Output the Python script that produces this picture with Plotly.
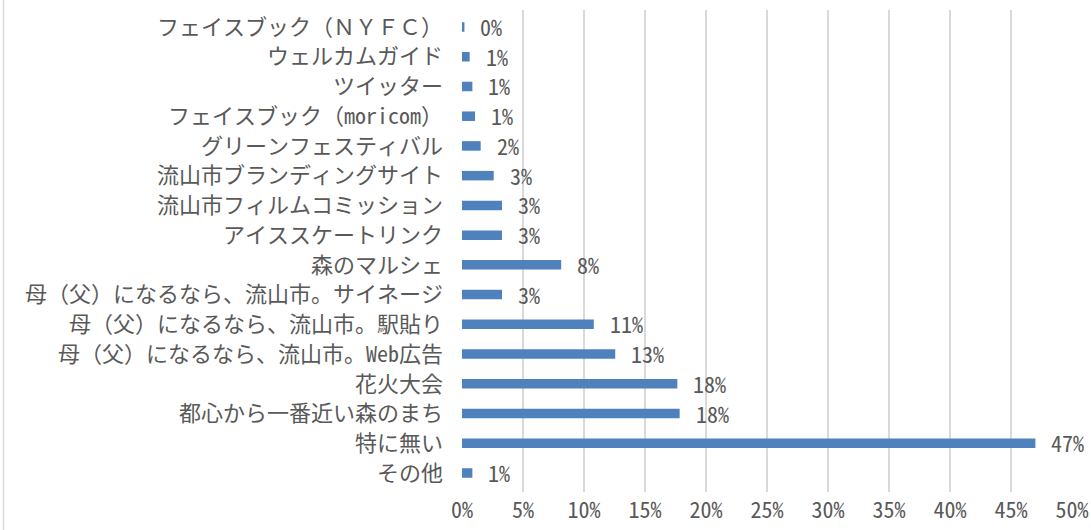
import plotly.graph_objects as go

categories = [
    "フェイスブック（ＮＹＦＣ）",
    "ウェルカムガイド",
    "ツイッター",
    "フェイスブック（moricom）",
    "グリーンフェスティバル",
    "流山市ブランディングサイト",
    "流山市フィルムコミッション",
    "アイススケートリンク",
    "森のマルシェ",
    "母（父）になるなら、流山市。サイネージ",
    "母（父）になるなら、流山市。駅貼り",
    "母（父）になるなら、流山市。Web広告",
    "花火大会",
    "都心から一番近い森のまち",
    "特に無い",
    "その他",
]
values = [0.002, 0.0063, 0.0085, 0.0107, 0.0153, 0.026, 0.0328, 0.0328,
          0.0813, 0.0328, 0.108, 0.1256, 0.1765, 0.1784, 0.470, 0.0085]
tick_vals = [0, 0.05, 0.10, 0.15, 0.20, 0.25, 0.30, 0.35, 0.40, 0.45, 0.50]
tick_text = ["0%", "5%", "10%", "15%", "20%", "25%", "30%", "35%", "40%", "45%", "50%"]

FONT = "Noto Sans Mono CJK JP, Noto Sans CJK JP, DejaVu Sans Mono"
GRAY = "#595959"
SIZE = 22

fig = go.Figure()
fig.add_trace(go.Bar(
    y=categories, x=values, orientation="h",
    marker=dict(color="#4F81BD", line=dict(width=0)),
    hoverinfo="x+y",
))

for c, v in zip(categories, values):
    fig.add_annotation(
        x=v, y=c, text=f"{round(v * 100):.0f}%", showarrow=False,
        xanchor="left", xshift=14, yshift=1,
        font=dict(family=FONT, size=SIZE, color=GRAY),
    )

# chart-area border on the left edge
fig.add_shape(type="line", xref="paper", yref="paper",
              x0=(3.5 - 462) / 610, x1=(3.5 - 462) / 610, y0=-10, y1=10,
              line=dict(color="#D9D9D9", width=1.5))

fig.update_layout(
    width=1091, height=530,
    margin=dict(l=462, r=19, t=10, b=38, autoexpand=False),
    paper_bgcolor="white", plot_bgcolor="white",
    bargap=0.68,
    showlegend=False,
    font=dict(family=FONT, color=GRAY),
)
fig.update_xaxes(
    range=[0, 0.50], tickvals=tick_vals, ticktext=tick_text,
    showgrid=True, gridcolor="#D9D9D9", gridwidth=1.5,
    zeroline=False, showline=False, ticks="", ticklabelstandoff=3,
    automargin=False,
    tickfont=dict(family=FONT, size=SIZE, color=GRAY),
    fixedrange=True,
)
fig.update_yaxes(
    autorange="reversed", showgrid=False, zeroline=False, showline=False,
    ticks="", ticklabelstandoff=18, automargin=False,
    tickfont=dict(family=FONT, size=SIZE, color=GRAY),
    fixedrange=True,
)

fig.write_html(
    "out.html", config={"displayModeBar": False},
    post_script=("document.documentElement.style.margin='0';"
                 "document.documentElement.style.overflow='hidden';"
                 "document.body.style.margin='0';"
                 "document.body.style.padding='0';"
                 "document.body.style.overflow='hidden';"),
)
